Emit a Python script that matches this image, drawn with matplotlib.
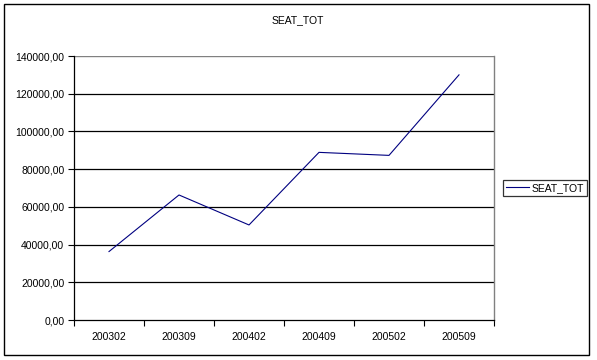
import matplotlib
matplotlib.use("Agg")
import matplotlib.pyplot as plt
from matplotlib.patches import Rectangle
from matplotlib.lines import Line2D

categories = ["200302", "200309", "200402", "200409", "200502", "200509"]
seat_tot = [36300, 66300, 50400, 88900, 87300, 130000]
yticks = [0, 20000, 40000, 60000, 80000, 100000, 120000, 140000]
ytick_labels = ["0,00", "20000,00", "40000,00", "60000,00", "80000,00",
                "100000,00", "120000,00", "140000,00"]

plt.rcParams['font.family'] = ['Liberation Sans', 'DejaVu Sans']
W, H = 597, 360
fig = plt.figure(figsize=(W / 100, H / 100), dpi=100)

# outer chart border
fig.patches.append(Rectangle((4 / W, 1 - 355 / H), (589 - 4) / W, (355 - 4) / H,
                             transform=fig.transFigure, fill=False,
                             edgecolor='black', linewidth=1.0))

left, right, top, bottom = 74, 494, 56, 320
ax = fig.add_axes([left / W, 1 - bottom / H, (right - left) / W, (bottom - top) / H])

x = list(range(len(categories)))
ax.plot(x, seat_tot, color='#000080', linewidth=0.8, label='SEAT_TOT')
ax.set_xlim(-0.5, len(categories) - 0.5)
ax.set_ylim(0, 140000)
ax.set_yticks(yticks)
ax.set_yticklabels(ytick_labels)
ax.set_xticks(x)
ax.set_xticklabels(categories)
ax.set_xticks([i - 0.5 for i in range(len(categories) + 1)], minor=True)
ax.tick_params(axis='x', which='major', length=0, pad=9, labelsize=7.5)
ax.tick_params(axis='x', which='minor', length=4, width=0.8, direction='out')
ax.tick_params(axis='y', length=4, width=0.8, direction='out', labelsize=7.5, pad=3)
for yv in yticks[1:-1]:
    ax.axhline(yv, color='black', linewidth=0.9, zorder=0)
ax.axhline(140000, color='#808080', linewidth=1.0, zorder=0)
ax.spines['top'].set_visible(False)
ax.spines['right'].set_color('#808080')
ax.spines['right'].set_linewidth(1.0)
ax.spines['left'].set_linewidth(0.9)
ax.spines['bottom'].set_linewidth(0.9)

fig.text(298 / W, 1 - 20 / H, "SEAT_TOT", ha='center', va='center', fontsize=7.5)

leg = fig.legend(handles=[Line2D([], [], color='#000080', linewidth=0.8)],
                 labels=['SEAT_TOT'], loc='center',
                 bbox_to_anchor=(545 / W, 1 - 188 / H), fontsize=7.5,
                 frameon=True, fancybox=False, handlelength=2.2,
                 handletextpad=0.2, borderpad=0.3, borderaxespad=0)
leg.get_frame().set_edgecolor('black')
leg.get_frame().set_linewidth(0.9)

fig.savefig("out.png", dpi=100)
